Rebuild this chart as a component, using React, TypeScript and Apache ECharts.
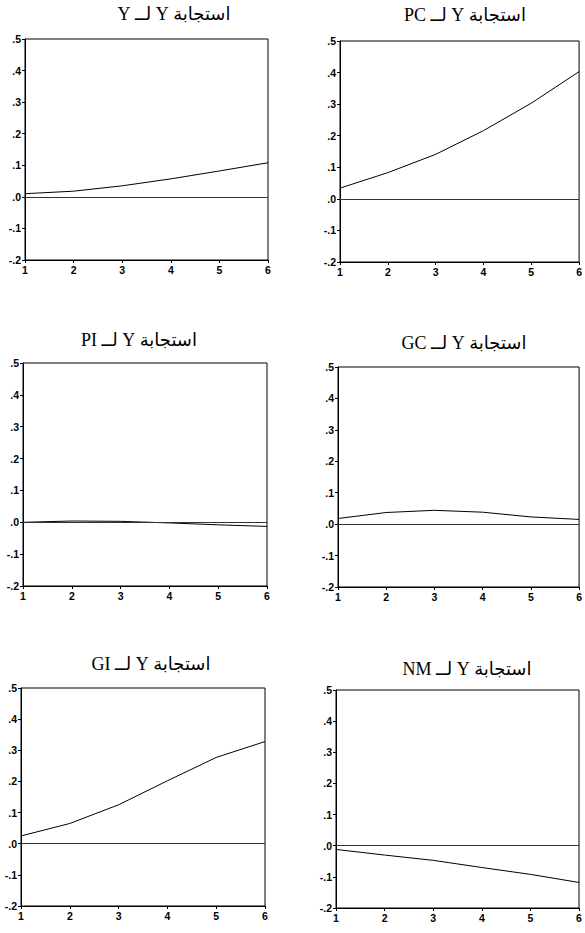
import React, { useEffect, useRef } from "react";
import * as echarts from "echarts";

const periods = [1, 2, 3, 4, 5, 6];
const xTickLabels = ["1", "2", "3", "4", "5", "6"];
const yTickValues = [-0.2, -0.1, 0.0, 0.1, 0.2, 0.3, 0.4, 0.5];
const yTickLabels = ["-.2", "-.1", ".0", ".1", ".2", ".3", ".4", ".5"];

const shockNames = ["Y", "PC", "PI", "GC", "GI", "NM"];
const respY = [0.01, 0.018, 0.035, 0.057, 0.082, 0.108];
const respPC = [0.034, 0.083, 0.141, 0.216, 0.303, 0.403];
const respPI = [0.0, 0.004, 0.003, -0.002, -0.008, -0.013];
const respGC = [0.018, 0.037, 0.044, 0.038, 0.023, 0.015];
const respGI = [0.025, 0.065, 0.125, 0.202, 0.277, 0.328];
const respNM = [-0.012, -0.03, -0.047, -0.07, -0.092, -0.118];
const responses = [respY, respPC, respPI, respGC, respGI, respNM];

// layout (px)
const grids = [
  { left: 25, top: 39, width: 243, height: 221 },
  { left: 340, top: 41, width: 243, height: 221 },
  { left: 23, top: 363, width: 244, height: 223 },
  { left: 338, top: 367, width: 245, height: 220 },
  { left: 21, top: 688, width: 244, height: 218 },
  { left: 336, top: 690, width: 243, height: 218 },
];
const titlePos = [
  [174, 14],
  [465, 15],
  [139, 340],
  [464, 343],
  [151, 664],
  [467, 669],
];

export default function App() {
  const ref = useRef<HTMLDivElement>(null);
  useEffect(() => {
    if (!ref.current) return;
    const chart = echarts.init(ref.current, null, { renderer: "svg" });
    const labelFont = {
      fontFamily: "Liberation Sans, Arial, sans-serif",
      fontSize: 10.5,
      fontWeight: "bold" as const,
      color: "#000",
    };
    const option: any = {
      animation: false,
      backgroundColor: "#fff",
      grid: grids.map((g) => ({
        ...g,
        show: true,
        borderColor: "#000",
        borderWidth: 1,
        backgroundColor: "transparent",
      })),
      xAxis: grids.map((_, i) => ({
        gridIndex: i,
        type: "value",
        min: 1,
        max: 6,
        interval: 1,
        axisLine: { show: true, onZero: false, lineStyle: { color: "#000", width: 1 } },
        axisTick: { show: true, inside: false, length: 3, lineStyle: { color: "#000" } },
        splitLine: { show: false },
        axisLabel: {
          ...labelFont,
          margin: 4,
          formatter: (v: number) => xTickLabels[periods.indexOf(Math.round(v))] ?? "",
        },
      })),
      yAxis: grids.map((_, i) => ({
        gridIndex: i,
        type: "value",
        min: -0.2,
        max: 0.5,
        interval: 0.1,
        axisLine: { show: true, onZero: false, lineStyle: { color: "#000", width: 1 } },
        axisTick: { show: true, inside: false, length: 3, lineStyle: { color: "#000" } },
        splitLine: { show: false },
        axisLabel: {
          ...labelFont,
          margin: 4,
          formatter: (v: number) => {
            const idx = yTickValues.findIndex((t) => Math.abs(t - v) < 1e-6);
            return idx >= 0 ? yTickLabels[idx] : "";
          },
        },
      })),
      series: responses.map((r, i) => ({
        type: "line",
        name: shockNames[i],
        xAxisIndex: i,
        yAxisIndex: i,
        data: periods.map((p, k) => [p, r[k]]),
        symbol: "none",
        smooth: false,
        lineStyle: { color: "#000", width: 1 },
        markLine: {
          silent: true,
          symbol: "none",
          label: { show: false },
          lineStyle: { color: "#333", width: 1, type: "solid" },
          data: [{ yAxis: 0 }],
        },
      })),
      graphic: shockNames.map((n, i) => ({
        type: "text",
        x: titlePos[i][0],
        y: titlePos[i][1],
        style: {
          text: "\u202Bاستجابة Y لــ " + n + "\u202C",
          textAlign: "center",
          textVerticalAlign: "middle",
          fontFamily: "Liberation Serif, DejaVu Sans, serif",
          fontSize: 18,
          fill: "#000",
        },
      })),
    };
    chart.setOption(option);
    return () => chart.dispose();
  }, []);
  return (
    <div
      ref={ref}
      style={{ position: "absolute", left: 0, top: 0, width: 585, height: 933, background: "#fff" }}
    />
  );
}
